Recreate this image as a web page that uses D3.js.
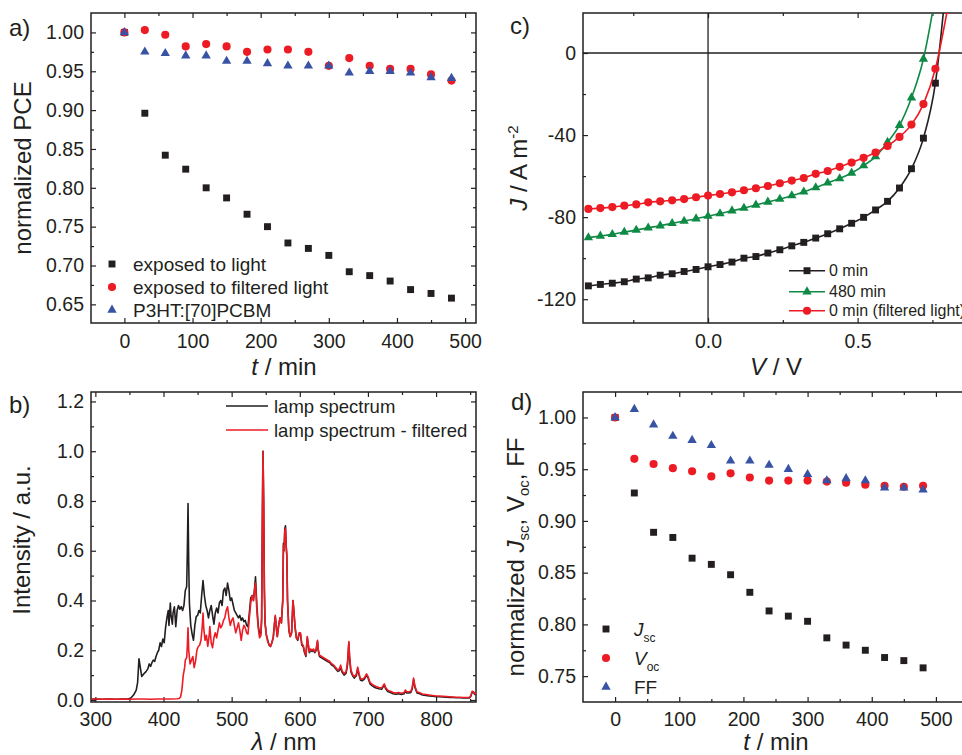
<!DOCTYPE html>
<html>
<head>
<meta charset="utf-8">
<script src="https://cdn.jsdelivr.net/npm/d3@7"></script>
<style>
  body { margin: 0; background: #fff; }
  svg { display: block; }
  text { font-family: 'Liberation Sans', Arial, Helvetica, sans-serif; fill: #231f20; }
</style>
</head>
<body>
<script>
// ---- data ----
var timeMin = [0, 30, 60, 90, 120, 150, 180, 210, 240, 270, 300, 330, 360, 390, 420, 450, 480];

// a) normalized PCE
var pceLight    = [1.000, 0.896, 0.842, 0.824, 0.800, 0.787, 0.766, 0.750, 0.729, 0.722, 0.713, 0.692, 0.687, 0.680, 0.669, 0.664, 0.658];
var pceFiltered = [1.000, 1.003, 0.997, 0.982, 0.985, 0.982, 0.975, 0.978, 0.978, 0.975, 0.957, 0.967, 0.957, 0.953, 0.953, 0.946, 0.938];
var pceP3HT     = [1.000, 0.975, 0.973, 0.970, 0.970, 0.963, 0.963, 0.960, 0.957, 0.957, 0.957, 0.948, 0.950, 0.950, 0.948, 0.942, 0.941];
var legendA = ['exposed to light', 'exposed to filtered light', 'P3HT:[70]PCBM'];

// c) J-V curves
var voltage = [-0.40, -0.36, -0.32, -0.28, -0.24, -0.20, -0.16, -0.12, -0.08, -0.04, 0.00, 0.04, 0.08, 0.12, 0.16,
  0.20, 0.24, 0.28, 0.32, 0.36, 0.40, 0.44, 0.48, 0.52, 0.56, 0.60, 0.64, 0.68, 0.72, 0.76, 0.80];
var jv0min = [-113.5, -112.8, -112.2, -111.5, -110.2, -109.6, -108.3, -107.6, -106.5, -105.5, -104.2, -103.1, -101.9, -100.0, -99.2,
  -97.5, -95.9, -94.0, -92.3, -90.2, -88.1, -85.7, -83.0, -80.1, -76.5, -72.3, -65.8, -56.4, -41.5, -14.7, 40];
var jv480min = [-90.0, -89.2, -88.4, -87.3, -86.3, -85.2, -84.2, -83.0, -81.9, -80.8, -79.5, -78.3, -76.9, -75.6, -74.1,
  -72.6, -71.2, -69.5, -67.7, -65.6, -63.3, -61.2, -58.5, -54.9, -50.5, -43.5, -35.2, -21.8, -2.9, 28, null];
var jvFiltered = [-76.0, -75.6, -75.1, -74.4, -73.8, -72.8, -72.3, -71.8, -71.2, -70.3, -69.5, -68.7, -67.9, -66.9, -65.9,
  -64.8, -63.5, -62.2, -60.9, -58.9, -57.5, -55.5, -53.4, -51.1, -48.5, -45.3, -40.9, -34.9, -24.9, -7.7, 21];
var legendC = ['0 min', '480 min', '0 min (filtered light)'];

// d) normalized Jsc, Voc, FF
var jscNorm = [1.000, 0.927, 0.889, 0.884, 0.864, 0.858, 0.848, 0.831, 0.813, 0.808, 0.803, 0.787, 0.780, 0.775, 0.768, 0.765, 0.758];
var vocNorm = [1.000, 0.960, 0.955, 0.951, 0.948, 0.943, 0.946, 0.942, 0.939, 0.939, 0.939, 0.938, 0.937, 0.935, 0.934, 0.933, 0.934];
var ffNorm  = [1.000, 1.008, 0.993, 0.982, 0.978, 0.973, 0.958, 0.958, 0.954, 0.950, 0.945, 0.939, 0.941, 0.939, 0.932, 0.932, 0.930];

// b) lamp spectra [wavelength nm, intensity]
var lampSpectrum = [[294,0.004],[300,0.004],[310,0.003],[320,0.004],[330,0.003],[340,0.004],[348,0.004],[352,0.008],[356,0.02],[360,0.04],
  [362,0.07],[364,0.166],[366,0.13],[368,0.095],[371,0.105],[374,0.113],[377,0.125],[379,0.145],[381,0.135],[383,0.15],[385,0.16],
  [387,0.155],[389,0.175],[391,0.19],[393,0.2],[395,0.23],[397,0.215],[399,0.245],[401,0.23],[403,0.29],[405,0.33],[407,0.36],
  [408,0.3],[410,0.39],[411,0.34],[413,0.305],[414,0.35],[416,0.375],[418,0.295],[420,0.36],[422,0.38],[424,0.365],[426,0.375],
  [428,0.36],[430,0.38],[432,0.44],[434,0.455],[435,0.6],[436,0.79],[437,0.55],[438,0.39],[440,0.3],[442,0.265],[444,0.24],
  [446,0.3],[448,0.335],[450,0.34],[452,0.36],[454,0.35],[456,0.42],[458,0.48],[460,0.42],[462,0.38],[464,0.36],[466,0.33],
  [468,0.36],[470,0.38],[472,0.34],[474,0.305],[476,0.35],[478,0.37],[480,0.35],[482,0.39],[484,0.4],[486,0.38],[488,0.44],
  [490,0.45],[492,0.42],[494,0.47],[496,0.44],[498,0.4],[500,0.41],[502,0.385],[504,0.36],[506,0.35],[508,0.34],[510,0.33],
  [512,0.34],[514,0.32],[516,0.33],[518,0.315],[520,0.32],[522,0.3],[524,0.295],[526,0.35],[528,0.41],[530,0.42],[532,0.4],
  [534,0.46],[535,0.495],[537,0.38],[539,0.3],[541,0.265],[543,0.27],[544,0.33],[545,0.7],[546,1.0],[547,0.8],[548,0.45],
  [549,0.31],[551,0.26],[553,0.24],[555,0.22],[557,0.215],[559,0.23],[561,0.25],[563,0.31],[564,0.335],[566,0.28],[567,0.255],
  [569,0.3],[571,0.33],[573,0.31],[575,0.4],[576,0.63],[577,0.6],[578,0.69],[579,0.7],[580,0.62],[581,0.58],[582,0.4],[584,0.28],
  [586,0.255],[588,0.27],[590,0.4],[591,0.37],[593,0.295],[595,0.25],[597,0.24],[599,0.265],[601,0.265],[603,0.22],[605,0.215],
  [607,0.19],[609,0.175],[611,0.25],[612,0.23],[614,0.19],[616,0.2],[618,0.195],[620,0.2],[622,0.19],[624,0.2],[626,0.235],
  [627,0.2],[629,0.175],[632,0.17],[635,0.165],[638,0.16],[641,0.155],[644,0.15],[647,0.14],[650,0.135],[653,0.125],[656,0.115],
  [658,0.118],[660,0.132],[662,0.112],[665,0.1],[668,0.108],[670,0.14],[672,0.23],[673,0.17],[675,0.113],[678,0.095],[680,0.088],
  [683,0.098],[685,0.125],[687,0.1],[689,0.08],[692,0.078],[695,0.085],[698,0.1],[700,0.09],[703,0.065],[706,0.058],[709,0.052],
  [712,0.048],[716,0.045],[720,0.043],[724,0.06],[726,0.045],[729,0.034],[733,0.03],[737,0.025],[741,0.023],[745,0.025],
  [749,0.022],[753,0.025],[755,0.035],[757,0.028],[760,0.028],[763,0.03],[765,0.045],[767,0.082],[769,0.05],[772,0.028],
  [776,0.025],[780,0.02],[785,0.018],[790,0.016],[795,0.015],[800,0.013],[805,0.013],[810,0.012],[815,0.011],[820,0.01],
  [825,0.01],[830,0.009],[835,0.009],[840,0.008],[845,0.008],[849,0.008],[851,0.015],[853,0.032],[855,0.03],[857,0.022],[859,0.025]];
var filteredSpectrum = [[294,0.004],[300,0.004],[310,0.003],[320,0.004],[330,0.003],[340,0.004],[350,0.003],[360,0.004],[370,0.004],
  [380,0.003],[390,0.004],[400,0.004],[410,0.004],[420,0.005],[423,0.006],[425,0.012],[427,0.04],[429,0.1],[431,0.13],[432,0.16],
  [434,0.17],[435,0.22],[436,0.29],[437,0.2],[439,0.145],[441,0.16],[443,0.175],[445,0.13],[447,0.155],[449,0.2],[451,0.215],
  [453,0.22],[455,0.24],[457,0.3],[458,0.35],[459,0.29],[461,0.24],[463,0.26],[465,0.215],[467,0.26],[468,0.295],[470,0.23],
  [472,0.21],[474,0.25],[476,0.27],[478,0.25],[480,0.28],[482,0.31],[484,0.29],[486,0.3],[488,0.32],[490,0.33],[492,0.36],
  [494,0.375],[496,0.33],[498,0.3],[500,0.32],[502,0.33],[504,0.3],[506,0.27],[508,0.29],[510,0.31],[512,0.28],[514,0.24],
  [516,0.28],[518,0.3],[520,0.29],[522,0.27],[524,0.265],[526,0.33],[528,0.39],[530,0.42],[532,0.4],[534,0.45],[535,0.47],
  [537,0.36],[539,0.29],[541,0.25],[543,0.26],[544,0.32],[545,0.7],[546,1.0],[547,0.8],[548,0.45],[549,0.31],[551,0.26],
  [553,0.235],[555,0.22],[557,0.215],[559,0.23],[561,0.25],[563,0.31],[564,0.34],[566,0.28],[567,0.255],[569,0.3],[571,0.33],
  [573,0.31],[575,0.4],[576,0.62],[577,0.6],[578,0.68],[579,0.69],[580,0.62],[581,0.58],[582,0.4],[584,0.28],[586,0.255],
  [588,0.27],[590,0.4],[591,0.37],[593,0.295],[595,0.25],[597,0.245],[599,0.27],[601,0.27],[603,0.225],[605,0.22],[607,0.195],
  [609,0.18],[611,0.255],[612,0.235],[614,0.195],[616,0.205],[618,0.2],[620,0.205],[622,0.195],[624,0.205],[626,0.24],[627,0.205],
  [629,0.18],[632,0.175],[635,0.17],[638,0.165],[641,0.16],[644,0.155],[647,0.145],[650,0.14],[653,0.13],[656,0.12],[658,0.125],
  [660,0.14],[662,0.118],[665,0.106],[668,0.114],[670,0.15],[672,0.235],[673,0.18],[675,0.12],[678,0.1],[680,0.094],[683,0.104],
  [685,0.132],[687,0.106],[689,0.086],[692,0.084],[695,0.09],[698,0.105],[700,0.095],[703,0.071],[706,0.064],[709,0.058],
  [712,0.054],[716,0.05],[720,0.048],[724,0.065],[726,0.05],[729,0.039],[733,0.035],[737,0.03],[741,0.028],[745,0.03],[749,0.027],
  [753,0.03],[755,0.04],[757,0.033],[760,0.033],[763,0.035],[765,0.05],[767,0.088],[769,0.055],[772,0.033],[776,0.029],[780,0.024],
  [785,0.022],[790,0.02],[795,0.018],[800,0.016],[805,0.016],[810,0.015],[815,0.014],[820,0.013],[825,0.012],[830,0.011],
  [835,0.011],[840,0.01],[845,0.01],[849,0.01],[851,0.018],[853,0.035],[855,0.033],[857,0.025],[859,0.028]];
var legendB = ['lamp spectrum', 'lamp spectrum - filtered'];

var ink = '#231f20', red = '#ed1c24', blue = '#3953a4', green = '#0f8a45';

var svg = d3.select('body').append('svg')
  .attr('width', 962)
  .attr('height', 755);

// draws the box, the inward ticks on four sides and the tick labels
function frame(g, x, y, o) {
  var xr = x.range(), yr = y.range();
  var sides = [
    [d3.axisBottom, x, 'translate(0,' + yr[0] + ')', true],
    [d3.axisTop, x, 'translate(0,' + yr[1] + ')', false],
    [d3.axisLeft, y, 'translate(' + xr[0] + ',0)', true],
    [d3.axisRight, y, 'translate(' + xr[1] + ',0)', false]
  ];
  sides.forEach(function (s) {
    var isX = s[1] === x;
    var major = s[0](s[1]).tickValues(isX ? o.xMajor : o.yMajor).tickSize(-5)
      .tickPadding(isX ? o.xPad : 7)
      .tickFormat(s[3] ? (isX ? o.xFmt : o.yFmt) : '');
    var minor = s[0](s[1]).tickValues(isX ? o.xMinor : o.yMinor).tickSize(-3).tickFormat('');
    [major, minor].forEach(function (ax) {
      var a = g.append('g').attr('transform', s[2]).call(ax)
        .attr('font-size', null).attr('font-family', null);
      a.select('.domain').remove();
      a.selectAll('line').attr('stroke', ink).attr('stroke-width', 1.2);
      a.selectAll('text').attr('fill', ink).style('font-size', '19.5px');
    });
  });
  g.append('rect')
    .attr('x', xr[0]).attr('y', yr[1])
    .attr('width', xr[1] - xr[0]).attr('height', yr[0] - yr[1])
    .attr('fill', 'none').attr('stroke', ink).attr('stroke-width', 1.5);
}

function clip(id, x, y) {
  svg.append('clipPath').attr('id', id).append('rect')
    .attr('x', x.range()[0]).attr('y', y.range()[1])
    .attr('width', x.range()[1] - x.range()[0]).attr('height', y.range()[0] - y.range()[1]);
  return 'url(#' + id + ')';
}

var sym = {
  square: d3.symbol().type(d3.symbolSquare).size(48),
  circle: d3.symbol().type(d3.symbolCircle).size(52),
  triangle: d3.symbol().type(d3.symbolTriangle).size(38)
};

function points(g, xs, ys, x, y, shape, color) {
  g.selectAll(null)
    .data(xs.map(function (v, i) { return [v, ys[i]]; }).filter(function (d) { return d[1] != null; }))
    .enter()
    .append('path')
    .attr('d', sym[shape])
    .attr('transform', function (d) { return 'translate(' + x(d[0]) + ',' + y(d[1]) + ')'; })
    .attr('fill', color);
}

function panelLabel(txt, px, py) {
  svg.append('text').attr('x', px).attr('y', py).style('font-size', '24px').text(txt);
}

function yTitle(cx, cy) {
  return svg.append('text')
    .attr('transform', 'translate(' + cx + ',' + cy + ') rotate(-90)')
    .attr('text-anchor', 'middle')
    .style('font-size', '24px');
}

function xTitle(cx, cy) {
  return svg.append('text')
    .attr('x', cx).attr('y', cy)
    .attr('text-anchor', 'middle')
    .style('font-size', '24px');
}

// ================= a) =================
var xa = d3.scaleLinear().domain([-49, 516]).range([91, 476]);
var ya = d3.scaleLinear().domain([0.626, 1.025]).range([323, 13]);
var ga = svg.append('g');
frame(ga, xa, ya, {
  xMajor: [0, 100, 200, 300, 400, 500], xMinor: [50, 150, 250, 350, 450],
  yMajor: [0.65, 0.70, 0.75, 0.80, 0.85, 0.90, 0.95, 1.00],
  yMinor: [0.675, 0.725, 0.775, 0.825, 0.875, 0.925, 0.975],
  xFmt: d3.format('d'), yFmt: d3.format('.2f'), xPad: 11
});
points(ga, timeMin, pceLight, xa, ya, 'square', ink);
points(ga, timeMin, pceFiltered, xa, ya, 'circle', red);
points(ga, timeMin, pceP3HT, xa, ya, 'triangle', blue);

var legA = [['square', ink], ['circle', red], ['triangle', blue]];
legA.forEach(function (m, i) {
  var ly = 264 + i * 23;
  ga.append('path').attr('d', sym[m[0]]).attr('transform', 'translate(112,' + ly + ')').attr('fill', m[1]);
  ga.append('text').attr('x', 133).attr('y', ly + 6.5).style('font-size', '19px').text(legendA[i]);
});
panelLabel('a)', 9, 36);
yTitle(31, 168).text('normalized PCE');
var ta = xTitle(284, 375);
ta.append('tspan').style('font-style', 'italic').text('t');
ta.append('tspan').text(' / min');

// ================= b) =================
var xb = d3.scaleLinear().domain([293.6, 858.6]).range([91, 476]);
var yb = d3.scaleLinear().domain([-0.008, 1.238]).range([702, 392]);
var gb = svg.append('g');
frame(gb, xb, yb, {
  xMajor: [300, 400, 500, 600, 700, 800], xMinor: [350, 450, 550, 650, 750, 850],
  yMajor: [0, 0.2, 0.4, 0.6, 0.8, 1.0, 1.2], yMinor: [0.1, 0.3, 0.5, 0.7, 0.9, 1.1],
  xFmt: d3.format('d'), yFmt: d3.format('.1f'), xPad: 10
});
var specLine = d3.line()
  .x(function (d) { return xb(d[0]); })
  .y(function (d) { return yb(d[1]); });
var specG = gb.append('g').attr('clip-path', clip('clipB', xb, yb));
specG.append('path').datum(lampSpectrum).attr('d', specLine)
  .attr('fill', 'none').attr('stroke', ink).attr('stroke-width', 1.6).attr('stroke-linejoin', 'round');
specG.append('path').datum(filteredSpectrum).attr('d', specLine)
  .attr('fill', 'none').attr('stroke', red).attr('stroke-width', 1.6).attr('stroke-linejoin', 'round');

[ink, red].forEach(function (c, i) {
  var ly = 406 + i * 24;
  gb.append('line').attr('x1', 226).attr('x2', 268).attr('y1', ly).attr('y2', ly)
    .attr('stroke', c).attr('stroke-width', 1.5);
  gb.append('text').attr('x', 274).attr('y', ly + 6.5).style('font-size', '18.5px').text(legendB[i]);
});
panelLabel('b)', 9, 413);
yTitle(30, 540).text('Intensity / a.u.');
var tb = xTitle(284, 750);
tb.append('tspan').style('font-style', 'italic').text('λ');
tb.append('tspan').text(' / nm');

// ================= c) =================
var xc = d3.scaleLinear().domain([-0.418, 0.869]).range([583, 968]);
var yc = d3.scaleLinear().domain([-131.6, 19.5]).range([323, 13]);
var gc = svg.append('g');
frame(gc, xc, yc, {
  xMajor: [0, 0.5], xMinor: [-0.25, 0.25, 0.75],
  yMajor: [-120, -80, -40, 0], yMinor: [-100, -60, -20],
  xFmt: d3.format('.1f'), yFmt: function (d) { return String(d); }, xPad: 11
});
gc.append('line').attr('x1', xc(0)).attr('x2', xc(0)).attr('y1', 13).attr('y2', 323)
  .attr('stroke', ink).attr('stroke-width', 1.3);
gc.append('line').attr('x1', 583).attr('x2', 968).attr('y1', yc(0)).attr('y2', yc(0))
  .attr('stroke', ink).attr('stroke-width', 1.3);

var jvG = gc.append('g').attr('clip-path', clip('clipC', xc, yc));
var jvSeries = [[jv0min, ink, 'square'], [jv480min, green, 'triangle'], [jvFiltered, red, 'circle']];
jvSeries.forEach(function (s) {
  var line = d3.line()
    .defined(function (d, i) { return s[0][i] != null; })
    .x(function (d) { return xc(d); })
    .y(function (d, i) { return yc(s[0][i]); })
    .curve(d3.curveMonotoneX);
  jvG.append('path').datum(voltage).attr('d', line)
    .attr('fill', 'none').attr('stroke', s[1]).attr('stroke-width', 1.6);
  points(jvG, voltage, s[0], xc, yc, s[2], s[1]);
});

var legCy = [270.7, 291.7, 310.7];
jvSeries.forEach(function (s, i) {
  gc.append('line').attr('x1', 789).attr('x2', 825).attr('y1', legCy[i]).attr('y2', legCy[i])
    .attr('stroke', s[1]).attr('stroke-width', 1.6);
  gc.append('path').attr('d', sym[s[2]]).attr('transform', 'translate(807,' + legCy[i] + ')').attr('fill', s[1]);
  gc.append('text').attr('x', 829).attr('y', legCy[i] + 5.5).style('font-size', '16px').text(legendC[i]);
});
panelLabel('c)', 510, 34);
var tcy = yTitle(527, 168);
tcy.append('tspan').style('font-style', 'italic').text('J');
tcy.append('tspan').text(' / A m');
tcy.append('tspan').attr('dy', -9).style('font-size', '15px').text('-2');
var tcx = xTitle(776, 375);
tcx.append('tspan').style('font-style', 'italic').text('V');
tcx.append('tspan').text(' / V');

// ================= d) =================
var xd = d3.scaleLinear().domain([-50, 550]).range([583, 968]);
var yd = d3.scaleLinear().domain([0.725, 1.0246]).range([702, 392]);
var gd = svg.append('g');
frame(gd, xd, yd, {
  xMajor: [0, 100, 200, 300, 400, 500], xMinor: [50, 150, 250, 350, 450],
  yMajor: [0.75, 0.80, 0.85, 0.90, 0.95, 1.00], yMinor: [0.775, 0.825, 0.875, 0.925, 0.975],
  xFmt: d3.format('d'), yFmt: d3.format('.2f'), xPad: 10
});
points(gd, timeMin, jscNorm, xd, yd, 'square', ink);
points(gd, timeMin, vocNorm, xd, yd, 'circle', red);
points(gd, timeMin, ffNorm, xd, yd, 'triangle', blue);

var legD = [['square', ink, 'J', 'sc'], ['circle', red, 'V', 'oc'], ['triangle', blue, 'FF', '']];
legD.forEach(function (m, i) {
  var ly = 629 + i * 29;
  gd.append('path').attr('d', sym[m[0]]).attr('transform', 'translate(606,' + ly + ')').attr('fill', m[1]);
  var t = gd.append('text').attr('x', 634).attr('y', ly + 6.5).style('font-size', '19px');
  t.append('tspan').style('font-style', m[3] ? 'italic' : 'normal').text(m[2]);
  if (m[3]) t.append('tspan').attr('dy', 6).style('font-size', '12px').text(m[3]);
});
panelLabel('d)', 511, 410);
var tdy = yTitle(524, 557);
tdy.append('tspan').text('normalized ');
tdy.append('tspan').style('font-style', 'italic').text('J');
tdy.append('tspan').attr('dy', 5).style('font-size', '15px').text('sc');
tdy.append('tspan').attr('dy', -5).text(', V');
tdy.append('tspan').attr('dy', 5).style('font-size', '15px').text('oc');
tdy.append('tspan').attr('dy', -5).text(', FF');
var tdx = xTitle(776, 750);
tdx.append('tspan').style('font-style', 'italic').text('t');
tdx.append('tspan').text(' / min');
</script>
</body>
</html>
